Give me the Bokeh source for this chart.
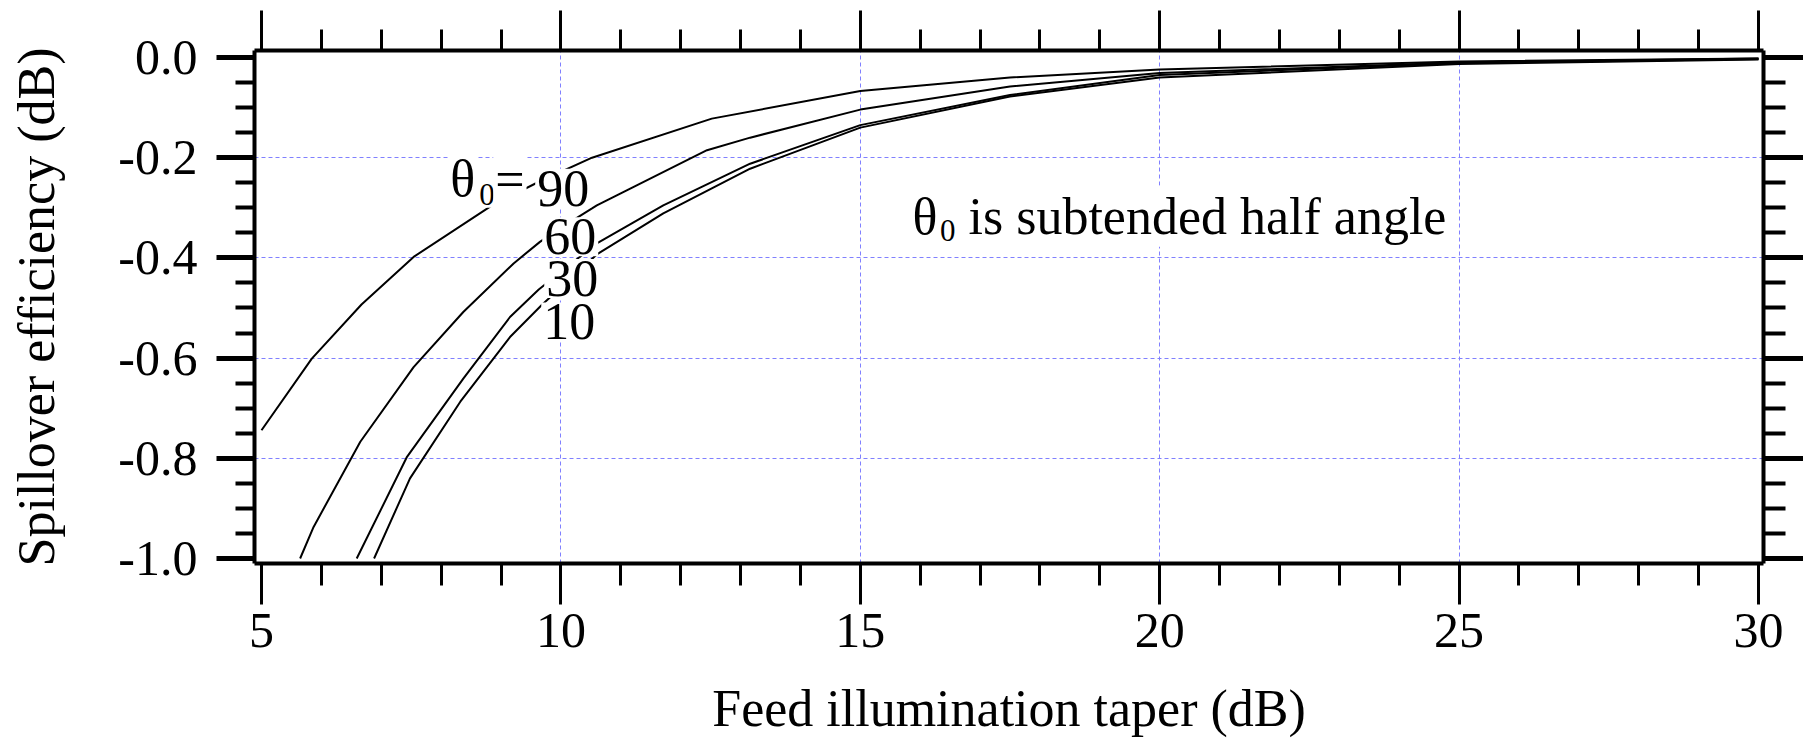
from bokeh.plotting import figure
from bokeh.models import Range1d, LinearAxis, FixedTicker, Label, PrintfTickFormatter, CustomJSTickFormatter
from bokeh.embed import file_html
from bokeh.resources import INLINE

# Spillover efficiency (dB) versus feed edge taper (dB) for four subtended half angles
taper_90 = [5.0, 5.84, 6.67, 7.54, 8.85, 9.6, 10.52, 12.52, 15.0, 17.5, 20.0, 25.0, 30.0]
eff_90 = [-0.744, -0.601, -0.493, -0.398, -0.295, -0.250, -0.200, -0.122, -0.067, -0.040, -0.024, -0.008, -0.002]

taper_60 = [5.645, 5.87, 6.65, 7.54, 8.37, 9.21, 9.65, 10.0, 10.6, 12.44, 13.16, 15.0, 17.5, 20.0, 25.0, 30.0]
eff_60 = [-1.0, -0.937, -0.767, -0.618, -0.508, -0.411, -0.368, -0.340, -0.295, -0.185, -0.160, -0.104, -0.058, -0.031, -0.010, -0.002]

taper_30 = [6.59, 7.43, 8.37, 9.15, 9.63, 10.6, 11.71, 13.16, 15.0, 17.5, 20.0, 25.0, 30.0]
eff_30 = [-1.0, -0.797, -0.641, -0.518, -0.463, -0.371, -0.295, -0.212, -0.135, -0.075, -0.035, -0.011, -0.003]

taper_10 = [6.88, 7.48, 8.32, 9.15, 9.68, 10.6, 11.71, 13.16, 15.0, 17.5, 20.0, 25.0, 30.0]
eff_10 = [-1.0, -0.840, -0.687, -0.558, -0.494, -0.393, -0.311, -0.222, -0.140, -0.078, -0.040, -0.013, -0.004]

x_major = [5, 10, 15, 20, 25, 30]
x_minor = list(range(5, 31))
y_major = [0.0, -0.2, -0.4, -0.6, -0.8, -1.0]
y_minor = [round(-0.05 * i, 2) for i in range(21)]
x_grid = [10, 15, 20, 25]
y_grid = [-0.2, -0.4, -0.6, -0.8]

FONT = "Liberation Serif"

p = figure(width=1803, height=742, output_backend="svg", toolbar_location=None,
           x_range=Range1d(4.883, 30.084), y_range=Range1d(-1.00998, 0.01397),
           min_border_left=254, min_border_right=40, min_border_top=50, min_border_bottom=179)
p.outline_line_color = None
p.background_fill_color = "white"
p.border_fill_color = "white"

# dashed grid
p.xgrid.ticker = FixedTicker(ticks=x_grid)
p.ygrid.ticker = FixedTicker(ticks=y_grid)
for g in (p.xgrid, p.ygrid):
    g.grid_line_color = "#8080ff"
    g.grid_line_dash = "4 3"
    g.grid_line_width = 1

xt = FixedTicker(ticks=x_major, minor_ticks=x_minor)
yt = FixedTicker(ticks=y_major, minor_ticks=y_minor)

def style(ax, major_out, minor_out, width, minor_width):
    ax.axis_line_width = 4
    ax.axis_line_color = "black"
    ax.major_tick_in = 0
    ax.minor_tick_in = 0
    ax.major_tick_out = major_out
    ax.minor_tick_out = minor_out
    ax.major_tick_line_width = width
    ax.minor_tick_line_width = minor_width
    ax.major_tick_line_color = "black"
    ax.minor_tick_line_color = "black"
    ax.major_label_text_font = FONT
    ax.major_label_text_color = "black"
    ax.axis_label_text_font = FONT
    ax.axis_label_text_font_style = "normal"
    ax.axis_label_text_color = "black"

xa = p.xaxis[0]
xa.ticker = xt
style(xa, 41, 22, 3, 3)
xa.major_label_text_font_size = "50px"
xa.major_label_standoff = 9
xa.axis_label = "Feed illumination taper (dB)"
xa.axis_label_text_font_size = "52px"
xa.axis_label_standoff = 30

ya = p.yaxis[0]
ya.ticker = yt
ya.formatter = PrintfTickFormatter(format="%.1f")
style(ya, 38, 19, 5, 4)
ya.major_label_text_font_size = "50px"
ya.major_label_standoff = 19
ya.axis_label = "Spillover efficiency (dB)"
ya.axis_label_text_font_size = "52px"
ya.axis_label_standoff = 50

blank = CustomJSTickFormatter(code="return ''")
top = LinearAxis(ticker=xt, formatter=blank)
style(top, 40, 21, 3, 3)
top.major_label_text_font_size = "0px"
top.major_label_standoff = 0
p.add_layout(top, "above")

right = LinearAxis(ticker=yt, formatter=blank)
style(right, 40, 22, 5, 4)
right.major_label_text_font_size = "0px"
right.major_label_standoff = 0
p.add_layout(right, "right")

# curves
for xs, ys in ((taper_90, eff_90), (taper_60, eff_60), (taper_30, eff_30), (taper_10, eff_10)):
    p.line(xs, ys, line_color="black", line_width=2)

def label(x, y, text, size="52px", pad=2):
    p.add_layout(Label(x=x, y=y, text=text, text_font=FONT, text_font_size=size,
                       text_color="black", text_align="left", text_baseline="alphabetic",
                       background_fill_color="white", padding=pad))

# curve labels
label(8.118, -0.2409, "θ")
label(8.586, -0.2729, "0", size="31px", pad=3)
label(8.870, -0.2430, "=")
label(9.571, -0.2609, "90")
label(9.688, -0.3580, "60")
label(9.722, -0.4411, "30")
label(9.672, -0.5277, "10")

# note
label(15.837, -0.3180, "θ")
label(16.297, -0.3447, "0", size="31px")
label(16.773, -0.3168, "is subtended half angle")

open("out.html", "w").write(file_html(p, INLINE))
